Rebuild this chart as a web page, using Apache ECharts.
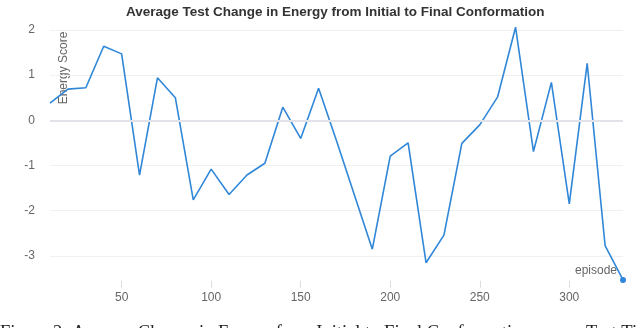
<!DOCTYPE html>
<html>
<head>
<meta charset="utf-8">
<script src="https://cdn.jsdelivr.net/npm/echarts@6/dist/echarts.min.js"></script>
<style>
  html, body { margin: 0; padding: 0; background: #fff; }
  #main { width: 640px; height: 328px; }
</style>
</head>
<body>
<div id="main"></div>
<script>
// episodes and the average energy change
var episodes = [10, 20, 30, 40, 50, 60, 70, 80, 90, 100, 110, 120, 130, 140, 150, 160, 170,
    180, 190, 200, 210, 220, 230, 240, 250, 260, 270, 280, 290, 300, 310, 320, 330];
var energyScores = [0.38, 0.69, 0.72, 1.64, 1.47, -1.21, 0.94, 0.50, -1.76, -1.08, -1.64, -1.21,
    -0.95, 0.29, -0.40, 0.71, -0.45, -1.65, -2.85, -0.79, -0.50, -3.15, -2.54, -0.51, -0.10,
    0.52, 2.06, -0.69, 0.84, -1.85, 1.26, -2.77, -3.53];
var xTicks = [50, 100, 150, 200, 250, 300];

(function(){

var chart = echarts.init(document.getElementById('main'));

var lineData = episodes.map(function (e, i) {
    if (i === episodes.length - 1) {
        // only the last point carries a dot
        return { value: [e, energyScores[i]], symbol: 'circle', symbolSize: 6 };
    }
    return [e, energyScores[i]];
});

var option = {
    animation: false,
    textStyle: { fontFamily: 'Liberation Sans' },
    title: {
        text: 'Average Test Change in Energy from Initial to Final Conformation',
        left: 121,
        top: 0,
        textStyle: { fontSize: 13.5, fontWeight: 'bold', color: '#333', fontFamily: 'Liberation Sans' }
    },
    grid: {
        left: 50,
        right: 17,
        top: 25.4,
        bottom: 47.2
    },
    xAxis: {
        type: 'value',
        min: 10,
        max: 330,
        axisLine: { show: false, onZero: false },
        axisTick: {
            show: true,
            customValues: xTicks,
            length: 7,
            lineStyle: { color: '#ddd', width: 1 }
        },
        axisLabel: {
            customValues: xTicks,
            margin: 11,
            fontSize: 12,
            color: '#666'
        },
        splitLine: { show: false }
    },
    yAxis: {
        type: 'value',
        min: -3.55,
        max: 2.1,
        axisLine: { show: false },
        axisTick: { show: false },
        axisLabel: {
            showMinLabel: false,
            showMaxLabel: false,
            margin: 15,
            fontSize: 12,
            color: '#666'
        },
        splitLine: {
            showMinLine: false,
            showMaxLine: false,
            lineStyle: { color: '#f0f0f0', width: 1 }
        }
    },
    graphic: [
        {
            type: 'text',
            x: 64,
            y: 68,
            rotation: Math.PI / 2,
            style: {
                text: 'Energy Score',
                fill: '#666',
                font: '12px "Liberation Sans"',
                align: 'center',
                verticalAlign: 'middle'
            }
        },
        {
            type: 'text',
            x: 617,
            y: 271,
            style: {
                text: 'episode',
                fill: '#666',
                font: '12px "Liberation Sans"',
                align: 'right',
                verticalAlign: 'middle'
            }
        },
        {
            type: 'text',
            x: 0,
            y: 324,
            style: {
                text: 'Figure 2: Average Change in Energy from Initial to Final Conformation across Test Ti',
                fill: '#222',
                font: '18.5px "Liberation Serif"',
                align: 'left',
                verticalAlign: 'top'
            }
        }
    ],
    series: [
        {
            name: 'Energy Score',
            type: 'line',
            symbol: 'none',
            clip: false,
            data: lineData,
            lineStyle: { color: '#3087d8', width: 1.6 },
            itemStyle: { color: '#3087d8' },
            markLine: {
                silent: true,
                symbol: 'none',
                label: { show: false },
                lineStyle: { color: '#e2e2e8', width: 2, type: 'solid' },
                data: [{ yAxis: 0 }]
            },
            z: 3
        }
    ]
};

chart.setOption(option);
})();
</script>
</body>
</html>
